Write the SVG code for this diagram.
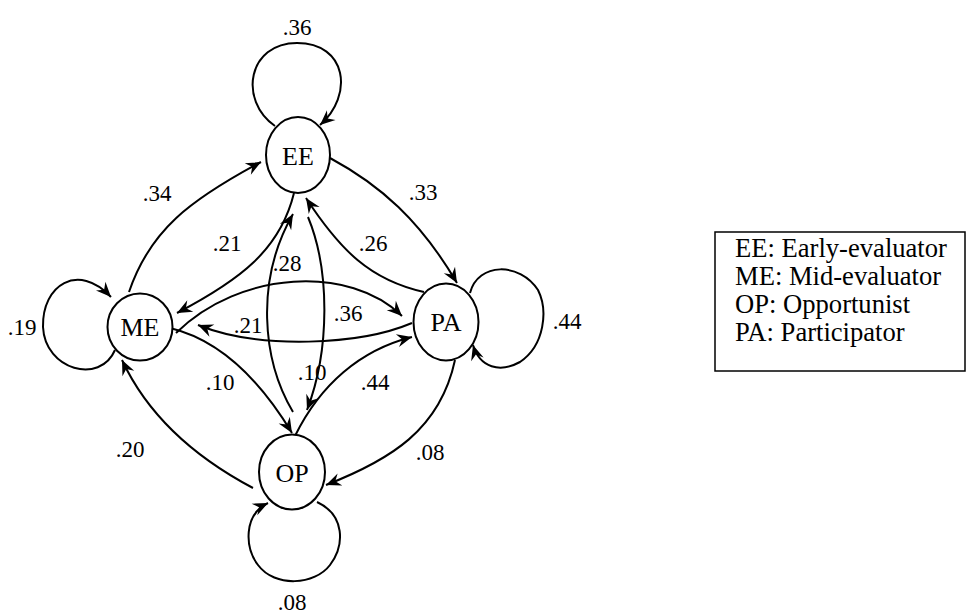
<svg xmlns="http://www.w3.org/2000/svg" width="969" height="616" viewBox="0 0 969 616" font-family="'Liberation Serif', Tinos, 'DejaVu Serif', 'Times New Roman', serif">
<style>
.node ellipse{fill:#fff;stroke:#000;stroke-width:2}
.node text{font-family:'Liberation Serif', Tinos, 'DejaVu Serif', serif;font-size:26px;text-anchor:middle;fill:#000}
.edges path{fill:none;stroke:#000;stroke-width:2;marker-end:url(#arr)}
.lbl{font-family:'Liberation Serif', Tinos, 'DejaVu Serif', serif;font-size:23px;text-anchor:middle;fill:#000}
.legend text{font-family:'Liberation Serif', Tinos, 'DejaVu Serif', serif;font-size:26.6px;fill:#000}
</style>
<defs>
<marker id="arr" markerUnits="userSpaceOnUse" markerWidth="20" markerHeight="16" refX="0" refY="0" viewBox="-16 -8 18 16" orient="auto" overflow="visible">
<path d="M0,0 L-15,-6.5 L-10,0 L-15,6.5 Z" fill="#000"/>
</marker>
</defs>
<rect width="969" height="616" fill="#fff"/>
<g class="edges">
<path d="M275,126 C238,100 248,43 297,43 C347,43 354,95 320,125"/>
<path d="M115,350 C100,385 45,370 43,327 C42,285 78,262 111,297"/>
<path d="M470,293 C478,262 520,262 538,290 C548,310 545,345 520,362 C500,373 480,368 473,345"/>
<path d="M317,502 C345,515 345,545 330,565 C315,585 275,588 258,565 C245,548 243,515 268,503"/>
<path d="M129,292 C150,230 190,200 261,162"/>
<path d="M330,158 C380,185 420,220 457,283"/>
<path d="M424,292 C370,280 340,250 306,198"/>
<path d="M294,193 C280,250 240,280 177,313"/>
<path d="M293,412 C262,360 255,280 293,214"/>
<path d="M308,217 C330,270 330,350 307,410"/>
<path d="M170,328 C220,340 260,380 292,433"/>
<path d="M295,436 C320,385 360,350 412,337"/>
<path d="M455,360 C440,430 390,460 326,485"/>
<path d="M253,488 C200,460 150,420 122,360"/>
<path d="M176,333 C240,270 350,265 402,316"/>
<path d="M412,323 C360,345 260,350 198,325"/>
</g>
<g id="EE" class="node"><ellipse cx="298" cy="155" rx="32" ry="38"/><text x="298" y="165">EE</text></g>
<g id="ME" class="node"><ellipse cx="140" cy="327" rx="32.5" ry="33.5"/><text x="140" y="336">ME</text></g>
<g id="PA" class="node"><ellipse cx="446" cy="322" rx="32.5" ry="38.5"/><text x="446" y="331">PA</text></g>
<g id="OP" class="node"><ellipse cx="292" cy="472" rx="33" ry="37.5"/><text x="292" y="482">OP</text></g>
<g id="labels">
<text class="lbl" x="297" y="35">.36</text>
<text class="lbl" x="22" y="335">.19</text>
<text class="lbl" x="567" y="329">.44</text>
<text class="lbl" x="292" y="610">.08</text>
<text class="lbl" x="157" y="201">.34</text>
<text class="lbl" x="423" y="200">.33</text>
<text class="lbl" x="227" y="251">.21</text>
<text class="lbl" x="373" y="251">.26</text>
<text class="lbl" x="287" y="271">.28</text>
<text class="lbl" x="348" y="321">.36</text>
<text class="lbl" x="248" y="333">.21</text>
<text class="lbl" x="220" y="390">.10</text>
<text class="lbl" x="312" y="380">.10</text>
<text class="lbl" x="375" y="390">.44</text>
<text class="lbl" x="130" y="457">.20</text>
<text class="lbl" x="430" y="460">.08</text>
</g>
<g id="legend" class="legend">
<rect x="715" y="232" width="250" height="139" fill="none" stroke="#000" stroke-width="1.5"/>
<text x="735" y="257">EE: Early-evaluator</text>
<text x="735" y="285">ME: Mid-evaluator</text>
<text x="735" y="313">OP: Opportunist</text>
<text x="735" y="341">PA: Participator</text>
</g>
</svg>
